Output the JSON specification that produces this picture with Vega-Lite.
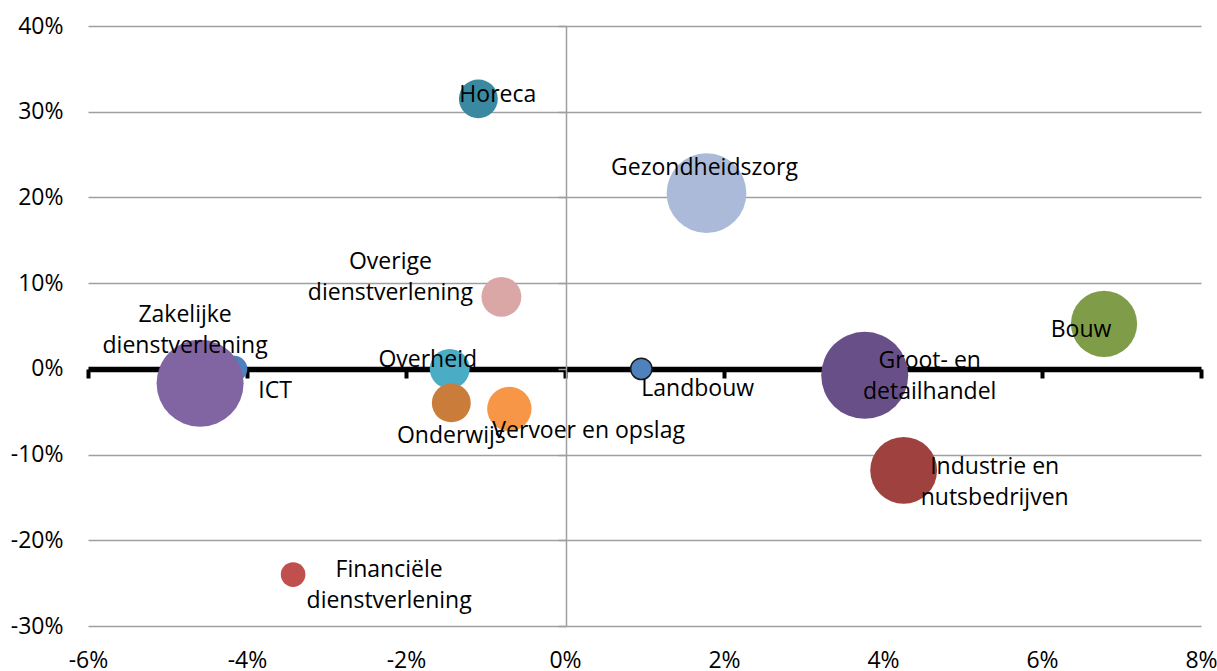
{
  "$schema": "https://vega.github.io/schema/vega-lite/v6.json",
  "width": 1113,
  "height": 600,
  "autosize": {"type": "none"},
  "padding": {"left": 88, "top": 26, "right": 16, "bottom": 45},
  "background": "white",
  "config": {
    "view": {"stroke": null},
    "font": "Open Sans",
    "text": {"font": "Open Sans", "fontSize": 23, "lineHeight": 31, "baseline": "alphabetic", "color": "#000000", "lineBreak": "\n"}
  },
  "data": {
    "values": [
      {"name": "Horeca", "label": "Horeca", "x": -1.09, "y": 31.5, "w": 20},
      {"name": "Gezondheidszorg", "label": "Gezondheidszorg", "x": 1.78, "y": 20.5, "w": 84},
      {"name": "Overige dienstverlening", "label": "Overige\ndienstverlening", "x": -0.8, "y": 8.4, "w": 21},
      {"name": "ICT", "label": "ICT", "x": -4.16, "y": 0.0, "w": 9},
      {"name": "Zakelijke dienstverlening", "label": "Zakelijke\ndienstverlening", "x": -4.59, "y": -1.69, "w": 100},
      {"name": "Overheid", "label": "Overheid", "x": -1.45, "y": 0.0, "w": 21},
      {"name": "Onderwijs", "label": "Onderwijs", "x": -1.43, "y": -3.97, "w": 20},
      {"name": "Vervoer en opslag", "label": "Vervoer en opslag", "x": -0.7, "y": -4.67, "w": 26},
      {"name": "Landbouw", "label": "Landbouw", "x": 0.96, "y": 0.0, "w": 6},
      {"name": "Groot- en detailhandel", "label": "Groot- en\ndetailhandel", "x": 3.77, "y": -0.76, "w": 100},
      {"name": "Bouw", "label": "Bouw", "x": 6.78, "y": 5.25, "w": 58},
      {"name": "Industrie en nutsbedrijven", "label": "Industrie en\nnutsbedrijven", "x": 4.26, "y": -11.84, "w": 59},
      {"name": "Financiële dienstverlening", "label": "Financiële\ndienstverlening", "x": -3.42, "y": -24.0, "w": 8}
    ]
  },
  "resolve": {"axis": {"x": "independent", "y": "independent"}},
  "layer": [
    {
      "mark": {"type": "point", "filled": true, "shape": "circle", "opacity": 1},
      "encoding": {
        "x": {
          "field": "x", "type": "quantitative",
          "scale": {"domain": [-6, 8], "nice": false, "zero": false},
          "axis": {"orient": "bottom", "offset": -257, "labels": false, "title": null, "grid": false,
                   "domain": true, "domainColor": "#000000", "domainWidth": 5.5,
                   "ticks": true, "tickColor": "#000000", "tickWidth": 4, "tickSize": 9,
                   "values": [-6, -4, -2, 0, 2, 4, 6, 8]}
        },
        "y": {
          "field": "y", "type": "quantitative",
          "scale": {"domain": [-30, 40], "nice": false, "zero": false},
          "axis": {"orient": "left", "offset": -478, "labels": false, "title": null, "grid": false,
                   "domain": true, "domainColor": "#9F9F9F", "domainWidth": 1.5,
                   "ticks": true, "tickColor": "#9F9F9F", "tickWidth": 1.5, "tickSize": 8,
                   "values": [-30, -20, -10, 0, 10, 20, 30, 40]}
        },
        "size": {"field": "w", "type": "quantitative", "scale": {"domain": [0, 100], "range": [0, 7569]}, "legend": null},
        "color": {
          "field": "name", "type": "nominal", "legend": null,
          "scale": {
            "domain": ["Horeca", "Gezondheidszorg", "Overige dienstverlening", "ICT", "Zakelijke dienstverlening", "Overheid", "Onderwijs", "Vervoer en opslag", "Landbouw", "Groot- en detailhandel", "Bouw", "Industrie en nutsbedrijven", "Financiële dienstverlening"],
            "range": ["#3A89A0", "#AABAD8", "#DAA7A6", "#4F81BD", "#8165A3", "#4BACC6", "#CA7C3A", "#F79646", "#4F81BD", "#684F88", "#7F9D48", "#9F413F", "#C0504D"]
          }
        },
        "stroke": {"condition": {"test": "datum.name === 'Landbouw'", "value": "#1A1A1A"}, "value": "transparent"},
        "strokeWidth": {"condition": {"test": "datum.name === 'Landbouw'", "value": 1.5}, "value": 0}
      }
    },
    {
      "encoding": {
        "x": {
          "field": "x", "type": "quantitative",
          "scale": {"domain": [-6, 8], "nice": false, "zero": false},
          "axis": {"orient": "bottom", "title": null, "grid": false, "domain": false, "ticks": false,
                   "values": [-6, -4, -2, 0, 2, 4, 6, 8], "labelExpr": "datum.value + '%'",
                   "labelFont": "Open Sans", "labelFontSize": 23, "labelColor": "#000000",
                   "labelPadding": 23, "labelFlush": false, "labelOverlap": false}
        },
        "y": {
          "field": "y", "type": "quantitative",
          "scale": {"domain": [-30, 40], "nice": false, "zero": false},
          "axis": {"orient": "left", "title": null, "grid": true, "gridColor": "#9F9F9F", "gridWidth": 1.5,
                   "domain": false, "ticks": false,
                   "values": [-30, -20, -10, 0, 10, 20, 30, 40], "labelExpr": "datum.value + '%'",
                   "labelFont": "Open Sans", "labelFontSize": 23, "labelColor": "#000000",
                   "labelPadding": 25, "labelFlush": false, "labelOverlap": false}
        },
        "text": {"field": "label", "type": "nominal"}
      },
      "layer": [
        {"transform": [{"filter": "datum.name === 'Horeca'"}], "mark": {"type": "text", "align": "left", "dx": -19, "dy": 3}},
        {"transform": [{"filter": "datum.name === 'Gezondheidszorg'"}], "mark": {"type": "text", "align": "center", "dx": -2, "dy": -18}},
        {"transform": [{"filter": "datum.name === 'Overige dienstverlening'"}], "mark": {"type": "text", "align": "center", "dx": -111, "dy": -28}},
        {"transform": [{"filter": "datum.name === 'Zakelijke dienstverlening'"}], "mark": {"type": "text", "align": "center", "dx": -15, "dy": -61}},
        {"transform": [{"filter": "datum.name === 'ICT'"}], "mark": {"type": "text", "align": "left", "dx": 24, "dy": 29}},
        {"transform": [{"filter": "datum.name === 'Overheid'"}], "mark": {"type": "text", "align": "center", "dx": -22, "dy": -2}},
        {"transform": [{"filter": "datum.name === 'Onderwijs'"}], "mark": {"type": "text", "align": "center", "dx": 0, "dy": 40}},
        {"transform": [{"filter": "datum.name === 'Vervoer en opslag'"}], "mark": {"type": "text", "align": "left", "dx": -17, "dy": 29}},
        {"transform": [{"filter": "datum.name === 'Landbouw'"}], "mark": {"type": "text", "align": "left", "dx": 0, "dy": 27}},
        {"transform": [{"filter": "datum.name === 'Groot- en detailhandel'"}], "mark": {"type": "text", "align": "center", "dx": 65, "dy": -7}},
        {"transform": [{"filter": "datum.name === 'Bouw'"}], "mark": {"type": "text", "align": "center", "dx": -23, "dy": 13}},
        {"transform": [{"filter": "datum.name === 'Industrie en nutsbedrijven'"}], "mark": {"type": "text", "align": "center", "dx": 91, "dy": 4}},
        {"transform": [{"filter": "datum.name === 'Financiële dienstverlening'"}], "mark": {"type": "text", "align": "center", "dx": 96, "dy": 2}}
      ]
    }
  ]
}
